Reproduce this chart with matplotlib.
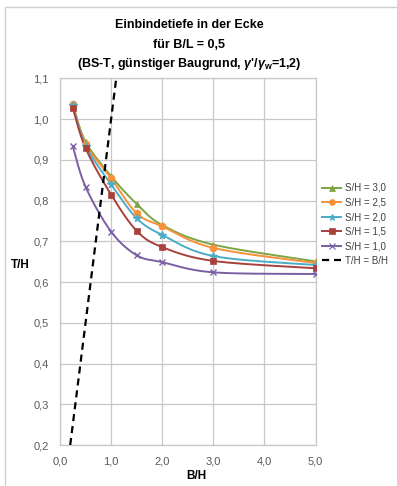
import numpy as np
import matplotlib
matplotlib.use("Agg")
import matplotlib.pyplot as plt
from matplotlib.patches import Rectangle

plt.rcParams['font.family'] = ['Liberation Sans', 'DejaVu Sans']
plt.rcParams['mathtext.fontset'] = 'custom'
plt.rcParams['mathtext.rm'] = 'Liberation Sans:bold'
plt.rcParams['mathtext.it'] = 'Liberation Sans:italic:bold'
plt.rcParams['mathtext.bf'] = 'Liberation Sans:bold'

# Data
b_h = [0.25, 0.5, 1.0, 1.5, 2.0, 3.0, 5.0]
series_labels = ["S/H = 3,0", "S/H = 2,5", "S/H = 2,0", "S/H = 1,5", "S/H = 1,0"]
t_h_30 = [1.036, 0.945, 0.860, 0.792, 0.740, 0.692, 0.651]
t_h_25 = [1.038, 0.940, 0.855, 0.769, 0.737, 0.684, 0.647]
t_h_20 = [1.034, 0.935, 0.840, 0.757, 0.716, 0.664, 0.642]
t_h_15 = [1.028, 0.929, 0.815, 0.726, 0.686, 0.652, 0.634]
t_h_10 = [0.934, 0.834, 0.724, 0.666, 0.649, 0.624, 0.620]
diag_x = [0.2, 1.1]
diag_label = "T/H = B/H"
x_ticks = [0.0, 1.0, 2.0, 3.0, 4.0, 5.0]
y_ticks = [0.2, 0.3, 0.4, 0.5, 0.6, 0.7, 0.8, 0.9, 1.0, 1.1]

colors = ["#7EA542", "#F7923A", "#4BACC6", "#A8413C", "#7A5FA3"]
markers = ["^", "o", "*", "s", "x"]
msizes = [4.5, 5.0, 5.5, 5.0, 5.0]


def smooth(x, y, n=30):
    """Bezier smoothing through the points (Catmull-Rom style control points)."""
    p = np.column_stack([x, y]).astype(float)
    ext = np.vstack([p[0], p, p[-1]])
    out = []
    for i in range(len(p) - 1):
        p0, p1, p2, p3 = ext[i], ext[i + 1], ext[i + 2], ext[i + 3]
        c1 = p1 + (p2 - p0) / 6.0
        c2 = p2 - (p3 - p1) / 6.0
        t = np.linspace(0, 1, n)[:, None]
        seg = ((1 - t) ** 3) * p1 + 3 * ((1 - t) ** 2) * t * c1 + 3 * (1 - t) * t ** 2 * c2 + t ** 3 * p2
        out.append(seg if i == 0 else seg[1:])
    s = np.vstack(out)
    return s[:, 0], s[:, 1]


fig = plt.figure(figsize=(3.97, 4.86), dpi=100)
fig.patch.set_facecolor("white")

# chart area border
fig.patches.append(Rectangle((5 / 397, -0.1), 1.2, 1 - 7 / 486 + 0.1, transform=fig.transFigure,
                             fill=False, edgecolor="#D0D0D0", linewidth=1.0))

ax = fig.add_axes([60 / 397, 1 - 445 / 486, (315.5 - 60) / 397, (445 - 78.5) / 486])

all_series = [t_h_30, t_h_25, t_h_20, t_h_15, t_h_10]
for vals, lab, c, m, ms in zip(all_series, series_labels, colors, markers, msizes):
    sx, sy = smooth(b_h, vals)
    ax.plot(sx, sy, color=c, linewidth=1.4, zorder=3)
    ax.plot(b_h, vals, linestyle="none", marker=m, color=c, markersize=ms,
            markeredgewidth=1.0 if m in ("x", "*") else 0.5, zorder=4)
    ax.plot([], [], color=c, linewidth=1.4, marker=m, markersize=ms * 0.85,
            markeredgewidth=0.8 if m in ("x", "*") else 0.5, label=lab)

ax.plot(diag_x, diag_x, color="black", linestyle=(0, (3.2, 2.2)), linewidth=1.6, label=diag_label, zorder=5)

ax.set_xlim(0, 5)
ax.set_ylim(0.2, 1.1)
ax.set_xticks(x_ticks)
ax.set_yticks(y_ticks)
ax.set_xticklabels([f"{v:.1f}".replace(".", ",") for v in x_ticks])
ax.set_yticklabels([f"{v:.1f}".replace(".", ",") for v in y_ticks])
ax.tick_params(length=0, labelsize=8, labelcolor="#595959")
ax.tick_params(axis="x", pad=8)
ax.tick_params(axis="y", pad=8)
ax.grid(True, color="#C8C8C8", linewidth=0.9)
ax.set_axisbelow(True)
for sp in ax.spines.values():
    sp.set_color("#C8C8C8")
    sp.set_linewidth(0.9)

fig.text(196 / 397, 1 - 476 / 486, "B/H", ha="center", va="center", fontsize=8.5, fontweight="bold")
fig.text(20 / 397, 1 - 265 / 486, "T/H", ha="center", va="center", fontsize=8.5, fontweight="bold")

title_lines = ["Einbindetiefe in der Ecke", "für B/L = 0,5",
               r"(BS-T, günstiger Baugrund, $\mathit{\gamma}$'/$\mathit{\gamma}_\mathrm{w}$=1,2)"]
for i, line in enumerate(title_lines):
    fig.text(189 / 397, 1 - (25.5 + 19 * i) / 486, line, ha="center", va="center",
             fontsize=9, fontweight="bold")

leg = ax.legend(loc="upper left", bbox_to_anchor=(322 / 397, 1 - 183 / 486), bbox_transform=fig.transFigure,
                frameon=False, fontsize=7, handlelength=2.0, handletextpad=0.35,
                labelspacing=0.47, borderaxespad=0, borderpad=0)
for t in leg.get_texts():
    t.set_color("#404040")

fig.savefig("out.png", dpi=100)
